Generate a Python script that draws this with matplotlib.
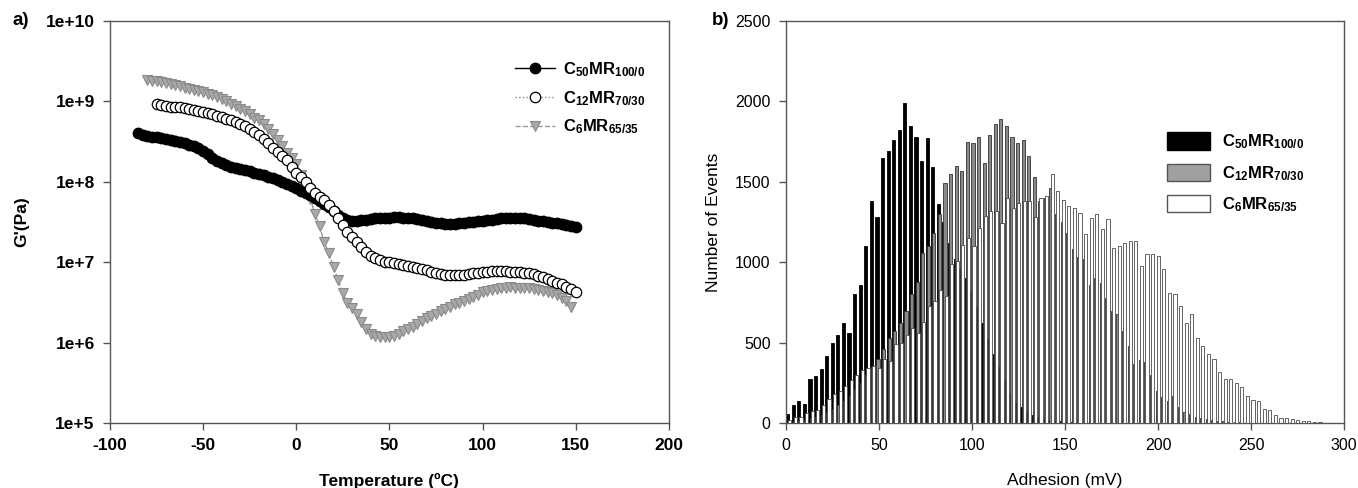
import matplotlib
matplotlib.use("Agg")
import matplotlib.pyplot as plt
import numpy as np
from matplotlib.patches import Patch

plt.rcParams["font.family"] = ["Liberation Sans", "DejaVu Sans"]
plt.rcParams["axes.unicode_minus"] = False
plt.rcParams["mathtext.fontset"] = "custom"
plt.rcParams["mathtext.rm"] = "Liberation Sans:bold"
plt.rcParams["mathtext.bf"] = "Liberation Sans:bold"
plt.rcParams["mathtext.it"] = "Liberation Sans:bold"

labels = [r"C$_{50}$MR$_{100/0}$", r"C$_{12}$MR$_{70/30}$", r"C$_6$MR$_{65/35}$"]

# ---- panel a: G' vs temperature ----
temp_c50 = np.arange(-85, 150.1, 2.5)
g_c50 = [4.0e8, 3.8e8, 3.7e8, 3.65e8, 3.6e8, 3.5e8, 3.4e8, 3.3e8, 3.2e8, 3.1e8,
         3.0e8, 2.9e8, 2.75e8, 2.6e8, 2.4e8, 2.2e8, 2.0e8, 1.8e8, 1.7e8, 1.6e8,
         1.55e8, 1.5e8, 1.45e8, 1.4e8, 1.35e8, 1.3e8, 1.25e8, 1.2e8, 1.15e8, 1.1e8,
         1.05e8, 1.0e8, 9.5e7, 9.0e7, 8.3e7, 7.8e7, 7.3e7, 6.8e7, 6.3e7, 5.8e7,
         5.3e7, 4.8e7, 4.3e7, 3.9e7, 3.6e7, 3.4e7, 3.3e7, 3.3e7, 3.35e7, 3.4e7,
         3.45e7, 3.5e7, 3.55e7, 3.6e7, 3.6e7, 3.65e7, 3.65e7, 3.6e7, 3.55e7, 3.5e7,
         3.45e7, 3.35e7, 3.25e7, 3.15e7, 3.1e7, 3.05e7, 3.0e7, 3.0e7, 3.0e7, 3.05e7,
         3.1e7, 3.15e7, 3.2e7, 3.25e7, 3.3e7, 3.35e7, 3.4e7, 3.45e7, 3.5e7, 3.5e7,
         3.55e7, 3.55e7, 3.55e7, 3.5e7, 3.45e7, 3.4e7, 3.3e7, 3.25e7, 3.2e7, 3.1e7,
         3.05e7, 2.95e7, 2.9e7, 2.85e7, 2.75e7]

temp_c12 = np.arange(-75, 150.1, 2.5)
g_c12 = [9.2e8, 9.0e8, 8.8e8, 8.6e8, 8.5e8, 8.4e8, 8.3e8, 8.1e8, 7.9e8, 7.6e8,
         7.4e8, 7.1e8, 6.9e8, 6.6e8, 6.4e8, 6.1e8, 5.8e8, 5.55e8, 5.25e8, 4.9e8,
         4.5e8, 4.15e8, 3.8e8, 3.4e8, 3.0e8, 2.65e8, 2.35e8, 2.1e8, 1.85e8, 1.55e8,
         1.3e8, 1.15e8, 1.0e8, 8.5e7, 7.2e7, 6.5e7, 5.9e7, 5.1e7, 4.4e7, 3.6e7,
         2.9e7, 2.4e7, 2.05e7, 1.8e7, 1.55e7, 1.35e7, 1.2e7, 1.12e7, 1.06e7, 1.02e7,
         1.0e7, 9.8e6, 9.5e6, 9.3e6, 9.1e6, 8.8e6, 8.5e6, 8.2e6, 7.9e6, 7.6e6,
         7.4e6, 7.2e6, 7.0e6, 7.0e6, 7.0e6, 7.0e6, 7.0e6, 7.1e6, 7.3e6, 7.4e6,
         7.5e6, 7.6e6, 7.7e6, 7.7e6, 7.7e6, 7.7e6, 7.6e6, 7.6e6, 7.5e6, 7.4e6,
         7.3e6, 7.1e6, 6.8e6, 6.5e6, 6.2e6, 5.9e6, 5.6e6, 5.3e6, 4.9e6, 4.6e6,
         4.3e6]

temp_c6 = np.arange(-80, 148.1, 2.5)
g_c6 = [1.82e9, 1.8e9, 1.77e9, 1.74e9, 1.7e9, 1.65e9, 1.59e9, 1.54e9, 1.48e9, 1.43e9,
        1.39e9, 1.35e9, 1.3e9, 1.25e9, 1.2e9, 1.14e9, 1.07e9, 1.0e9, 9.3e8, 8.7e8,
        8.1e8, 7.5e8, 6.9e8, 6.3e8, 5.8e8, 5.2e8, 4.6e8, 3.9e8, 3.3e8, 2.8e8,
        2.3e8, 2.0e8, 1.67e8, 1.2e8, 8.5e7, 6.2e7, 4.0e7, 2.8e7, 1.78e7, 1.3e7,
        8.7e6, 6.0e6, 4.1e6, 3.1e6, 2.7e6, 2.3e6, 1.8e6, 1.5e6, 1.3e6, 1.22e6,
        1.17e6, 1.17e6, 1.17e6, 1.22e6, 1.3e6, 1.38e6, 1.48e6, 1.58e6, 1.7e6, 1.85e6,
        2.0e6, 2.15e6, 2.3e6, 2.45e6, 2.6e6, 2.8e6, 3.0e6, 3.15e6, 3.3e6, 3.45e6,
        3.65e6, 3.95e6, 4.25e6, 4.4e6, 4.55e6, 4.7e6, 4.8e6, 4.85e6, 4.9e6, 4.85e6,
        4.8e6, 4.8e6, 4.8e6, 4.7e6, 4.55e6, 4.4e6, 4.25e6, 4.1e6, 3.9e6, 3.6e6,
        3.3e6, 2.75e6]

# ---- panel b: adhesion histogram (3 mV bins) ----
adhesion_bins = np.arange(1.5, 290, 3)
n_c50 = [55, 110, 140, 120, 275, 290, 335, 420, 500, 550,
         620, 560, 800, 860, 1100, 1380, 1280, 1650, 1690, 1760,
         1820, 1990, 1845, 1780, 1630, 1770, 1590, 1360, 1250, 1120,
         1020, 960, 900, 820, 720, 620, 520, 430, 350, 270,
         190, 130, 100, 70, 50, 35, 25, 20, 15, 10,
         5, 5, 3, 0, 0, 0, 0, 0, 0, 0,
         0, 0, 0, 0, 0, 0, 0, 0, 0, 0,
         0, 0, 0, 0, 0, 0, 0, 0, 0, 0,
         0, 0, 0, 0, 0, 0, 0, 0, 0, 0,
         0, 0, 0, 0, 0, 0, 0]
n_c12 = [5, 10, 15, 20, 30, 40, 50, 70, 90, 110,
         140, 170, 210, 250, 300, 350, 400, 460, 530, 570,
         620, 700, 800, 880, 1060, 1100, 1180, 1300, 1490, 1550,
         1600, 1570, 1750, 1740, 1780, 1620, 1790, 1860, 1890, 1850,
         1780, 1740, 1760, 1660, 1530, 1380, 1400, 1460, 1300, 1250,
         1180, 1080, 1030, 1020, 860, 900, 870, 780, 700, 680,
         570, 480, 370, 390, 380, 300, 200, 160, 140, 170,
         100, 70, 55, 40, 30, 25, 20, 15, 10, 8,
         5, 4, 3, 0, 0, 0, 0, 0, 0, 0,
         0, 0, 0, 0, 0, 0, 0]
n_c6 = [20, 40, 35, 60, 75, 80, 110, 150, 180, 200,
        230, 270, 300, 330, 340, 355, 340, 400, 385, 490,
        495, 550, 590, 560, 630, 730, 760, 830, 790, 990,
        1010, 1110, 1150, 1100, 1210, 1290, 1320, 1320, 1245, 1400,
        1340, 1370, 1380, 1380, 1280, 1400, 1410, 1550, 1440, 1390,
        1350, 1340, 1305, 1175, 1275, 1300, 1205, 1270, 1090, 1100,
        1120, 1130, 1130, 975, 1050, 1050, 1040, 960, 810, 800,
        730, 620, 680, 530, 480, 430, 400, 320, 275, 275,
        250, 225, 170, 145, 135, 90, 80, 50, 32, 30,
        25, 18, 12, 12, 8, 6, 0]

fig = plt.figure(figsize=(13.58, 4.88), dpi=100)
ax1 = fig.add_axes([0.081, 0.133, 0.4115, 0.824])
ax2 = fig.add_axes([0.5788, 0.133, 0.4109, 0.824])

spine_col = "#555555"
for ax in (ax1, ax2):
    for s in ax.spines.values():
        s.set_color(spine_col)
        s.set_linewidth(1.0)
    ax.tick_params(direction="out", length=5, width=1.0, color=spine_col, pad=6)

# panel a
ax1.plot(temp_c50, g_c50, "-", color="black", lw=1, marker="o", ms=7.5,
         mfc="black", mec="black", label=labels[0], zorder=3)
ax1.plot(temp_c12, g_c12, ":", color="#888888", lw=1, marker="o", ms=7.5,
         mfc="white", mec="black", mew=0.9, label=labels[1], zorder=4)
ax1.plot(temp_c6, g_c6, "--", color="#999999", lw=1, marker="v", ms=7.5,
         mfc="#a8a8a8", mec="#8a8a8a", mew=0.8, label=labels[2], zorder=2)
ax1.set_yscale("log")
ax1.set_ylim(1e5, 1e10)
ax1.set_xlim(-100, 200)
ax1.set_xticks([-100, -50, 0, 50, 100, 150, 200])
ax1.set_yticks([1e5, 1e6, 1e7, 1e8, 1e9, 1e10])
ax1.set_yticklabels(["1e+5", "1e+6", "1e+7", "1e+8", "1e+9", "1e+10"])
ax1.yaxis.set_minor_locator(matplotlib.ticker.NullLocator())
for t in ax1.get_xticklabels() + ax1.get_yticklabels():
    t.set_fontweight("bold")
    t.set_fontsize(12.5)
ax1.set_xlabel("Temperature (ºC)", fontsize=12.5, fontweight="bold", labelpad=14)
ax1.set_ylabel("G'(Pa)", fontsize=12.5, fontweight="bold", labelpad=12)
ax1.legend(loc="upper right", bbox_to_anchor=(0.985, 0.94), frameon=False,
           handlelength=2.4, handletextpad=0.5, labelspacing=0.6,
           prop={"weight": "bold", "size": 12})
fig.text(0.009, 0.957, "a)", fontsize=13.5, fontweight="bold", va="center")

# panel b: overlapping grouped bars, white in front
bw = 1.7
ax2.bar(adhesion_bins - 0.6, n_c50, width=bw, color="black", edgecolor="black",
        lw=0.6, label=labels[0], zorder=2)
ax2.bar(adhesion_bins, n_c12, width=bw, color="#8a8a8a", edgecolor="#333333",
        lw=0.6, label=labels[1], zorder=3)
ax2.bar(adhesion_bins + 0.6, n_c6, width=bw, color="white", edgecolor="#4a4a4a",
        lw=0.6, label=labels[2], zorder=4)
ax2.set_xlim(0, 300)
ax2.set_ylim(0, 2500)
ax2.set_xticks([0, 50, 100, 150, 200, 250, 300])
ax2.set_yticks([0, 500, 1000, 1500, 2000, 2500])
for t in ax2.get_xticklabels() + ax2.get_yticklabels():
    t.set_fontsize(11.5)
ax2.set_xlabel("Adhesion (mV)", fontsize=12.5, labelpad=14)
ax2.set_ylabel("Number of Events", fontsize=12.5, labelpad=10)
handles = [Patch(facecolor="black", edgecolor="black"),
           Patch(facecolor="#a0a0a0", edgecolor="#555555"),
           Patch(facecolor="white", edgecolor="#555555")]
ax2.legend(handles, labels, loc="upper right", bbox_to_anchor=(0.955, 0.76),
           frameon=False, handlelength=2.6, handleheight=1.2,
           handletextpad=0.7, labelspacing=0.75,
           prop={"weight": "bold", "size": 12})
fig.text(0.524, 0.957, "b)", fontsize=13.5, fontweight="bold", va="center")

fig.savefig("out.png", dpi=100)
